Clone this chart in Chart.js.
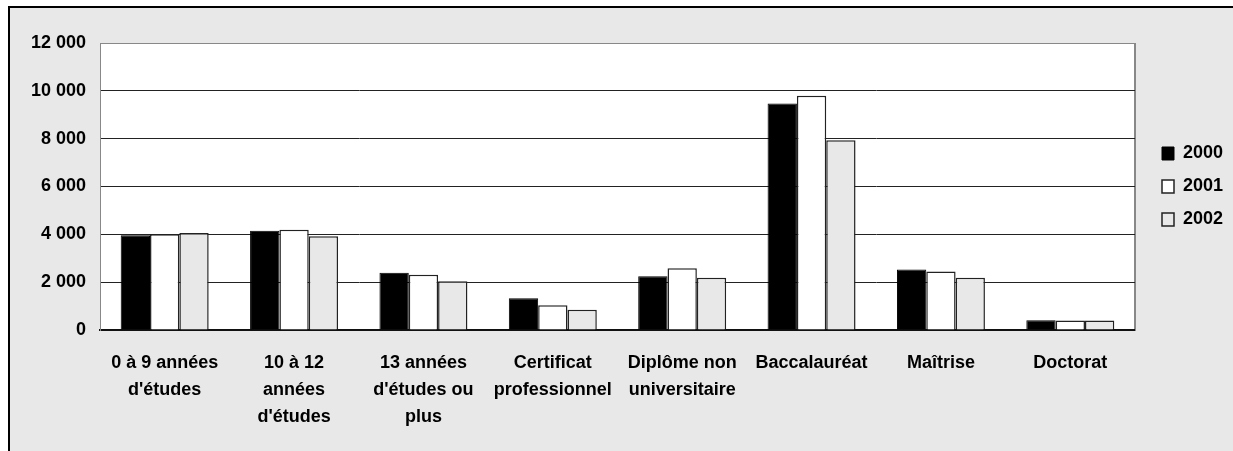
<!DOCTYPE html>
<html lang="fr">
<head>
<meta charset="utf-8">
<script src="https://cdn.jsdelivr.net/npm/chart.js@4"></script>
<style>
  html, body { margin: 0; padding: 0; background: #fff; }
  #frame {
    position: absolute; left: 8px; top: 6px; right: 0; bottom: 0;
    background: #e8e8e8;
    border-top: 2px solid #000;
    border-left: 2px solid #000;
  }
  #wrap { position: absolute; left: 0; top: 0; width: 1233px; height: 451px; }
</style>
</head>
<body>
<div id="frame"></div>
<div id="wrap"><canvas id="chart"></canvas></div>
<script>
const categories = [
  ["0 à 9 années", "d'études"],
  ["10 à 12", "années", "d'études"],
  ["13 années", "d'études ou", "plus"],
  ["Certificat", "professionnel"],
  ["Diplôme non", "universitaire"],
  ["Baccalauréat"],
  ["Maîtrise"],
  ["Doctorat"]
];
const years = ["2000", "2001", "2002"];
const values2000 = [3960, 4150, 2390, 1330, 2250, 9470, 2530, 410];
const values2001 = [4000, 4190, 2310, 1040, 2580, 9790, 2450, 400];
const values2002 = [4060, 3920, 2040, 850, 2180, 7930, 2180, 400];
const yTicks = [0, 2000, 4000, 6000, 8000, 10000, 12000];

const font = { family: "'Liberation Sans', Arial, sans-serif", size: 18, weight: "bold" };

// white plot area with a gray frame
const plotBackground = {
  id: "plotBackground",
  beforeDraw(chart) {
    const { ctx, chartArea: a } = chart;
    ctx.save();
    ctx.fillStyle = "#fff";
    ctx.fillRect(a.left, a.top, a.right - a.left, a.bottom - a.top);
    ctx.strokeStyle = "#888";
    ctx.lineWidth = 1;
    ctx.strokeRect(a.left + 0.5, a.top + 0.5, a.right - a.left - 1, a.bottom - a.top);
    ctx.restore();
  },
};

function fmt(v) {
  return String(v).replace(/\B(?=(\d{3})+(?!\d))/g, " ");
}

new Chart(document.getElementById("chart"), {
  type: "bar",
  data: {
    labels: categories,
    datasets: [
      { label: years[0], data: values2000, backgroundColor: "#000", borderColor: "#000", borderWidth: 1 },
      { label: years[1], data: values2001, backgroundColor: "#fff", borderColor: "#222", borderWidth: 1.5 },
      { label: years[2], data: values2002, backgroundColor: "#e8e8e8", borderColor: "#222", borderWidth: 1.5 },
    ],
  },
  options: {
    responsive: true,
    maintainAspectRatio: false,
    animation: false,
    layout: { padding: { top: 43, left: 0, right: 0, bottom: 0 } },
    datasets: { bar: { categoryPercentage: 0.68, barPercentage: 1 } },
    plugins: {
      tooltip: { enabled: false },
      legend: {
        position: "right",
        fullSize: false,
        maxWidth: 86,
        labels: {
          color: "#000",
          font,
          boxWidth: 12,
          boxHeight: 13,
          padding: 15,
        },
      },
    },
    scales: {
      x: {
        grid: { display: false, drawTicks: false },
        border: { color: "#111", width: 2 },
        ticks: { color: "#000", font: { ...font, lineHeight: 1.5 }, padding: 20, maxRotation: 0, autoSkip: false },
        afterFit: (s) => { s.height = 121; },
      },
      y: {
        min: 0,
        max: 12000,
        afterBuildTicks: (s) => { s.ticks = yTicks.map((v) => ({ value: v })); },
        grid: {
          drawTicks: false,
          color: (c) => (c.tick && c.tick.value === 12000 ? "#888" : "#222"),
          lineWidth: 1,
        },
        border: { color: "#888", width: 1 },
        ticks: { color: "#000", font, padding: 14, callback: (v) => fmt(v) },
        afterFit: (s) => { s.width = 100; },
      },
      yRight: {
        position: "right",
        min: 0,
        max: 12000,
        grid: { display: false, drawTicks: false },
        border: { color: "#888", width: 1 },
        ticks: { display: false },
        afterFit: (s) => { s.width = 12; },
      },
    },
  },
  plugins: [plotBackground],
});
</script>
</body>
</html>
